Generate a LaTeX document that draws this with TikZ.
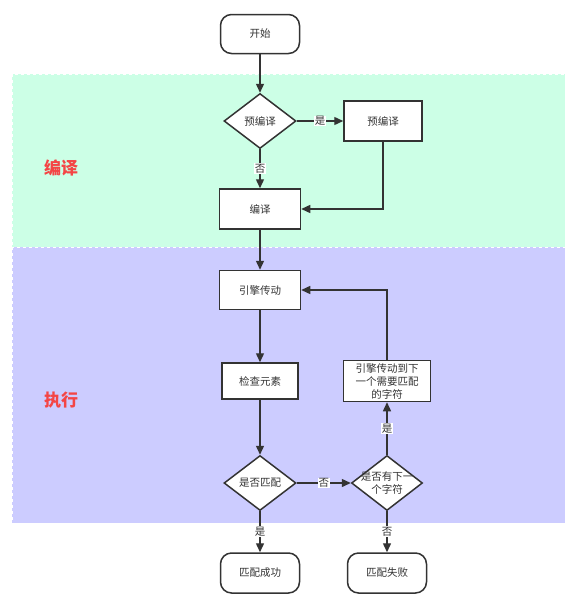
\documentclass[tikz,border=0pt]{standalone}
\usepackage{fontspec}
\setmainfont{Noto Sans CJK SC}
\usetikzlibrary{shapes.geometric,arrows.meta}
\definecolor{lanegreen}{HTML}{CCFFE6}
\definecolor{laneblue}{HTML}{CCCCFF}
\definecolor{inkgray}{HTML}{333333}
\definecolor{lanered}{HTML}{F44545}
\tikzset{
  box/.style={draw=inkgray, line width=1.5pt, fill=white, text=inkgray, font=\fontsize{10.5}{13}\selectfont, minimum width=#1, minimum height=40pt, inner sep=1pt, align=center},
  term/.style={box=79pt, rounded corners=11pt, minimum height=39pt},
  dia/.style={shape=diamond, draw=inkgray, line width=1.5pt, fill=white, minimum width=72pt, minimum height=55pt, inner sep=0pt},
  dtext/.style={text=inkgray, font=\fontsize{10.5}{13.5}\selectfont, align=center, inner sep=0pt},
  conn/.style={draw=inkgray, line width=1.4pt, -{Triangle[length=9pt,width=8pt]}},
  elab/.style={fill=white, text=inkgray, font=\fontsize{10.5}{12}\selectfont, inner sep=0.8pt},
  lane/.style={draw=white, dashed, line width=0.8pt},
  lanelabel/.style={text=lanered, font=\fontsize{17}{20}\selectfont\bfseries}
}
\begin{document}
\begin{tikzpicture}[x=1pt, y=-1pt]
\useasboundingbox (0,0) rectangle (581,600);
\fill[white] (0,0) rectangle (581,600);
% swimlanes
\path[lane, fill=lanegreen] (12,74) rectangle (565,247);
\path[lane, fill=laneblue] (12,247) rectangle (565,523);
\node[lanelabel] (lcomp) at (61,168) {编译};
\node[lanelabel] (lexec) at (61,400) {执行};
% nodes
\node[term] (start) at (260,34) {开始};
\node[dia] (d1) at (260,121) {};
\node[dtext] (d1t) at (d1.center) {预编译};
\node[box=78pt] (pre) at (383,121) {预编译};
\node[box=81pt] (comp) at (260,209) {编译};
\node[box=81pt, minimum height=39pt] (engine) at (260,290) {引擎传动};
\node[box=76pt, minimum height=36pt] (check) at (260,381) {检查元素};
\node[box=87pt, minimum height=41pt] (move) at (387,381) {引擎传动到下\\一个需要匹配\\的字符};
\node[dia] (d2) at (260,483) {};
\node[dtext] (d2t) at (d2.center) {是否匹配};
\node[dia, minimum width=71pt] (d3) at (387,483) {};
\node[dtext] (d3t) at (d3.center) {是否有下一\\个字符};
\node[term, minimum height=40pt] (succ) at (260,573) {匹配成功};
\node[term, minimum height=40pt] (fail) at (387,573) {匹配失败};
% connectors
\draw[conn] (start) -- (d1);
\draw[conn] (d1) -- node[elab] (lyes1) {是} (pre);
\draw[conn] (d1) -- node[elab] (lno1) {否} (comp);
\draw[conn] (pre.south) |- (comp.east);
\draw[conn] (comp) -- (engine);
\draw[conn] (engine) -- (check);
\draw[conn] (check) -- (d2);
\draw[conn] (d2) -- node[elab] (lno2) {否} (d3);
\draw[conn] (d3) -- node[elab] (lyes2) {是} (move);
\draw[conn] (move.north) |- (engine.east);
\draw[conn] (d2) -- node[elab] (lyes3) {是} (succ);
\draw[conn] (d3) -- node[elab] (lno3) {否} (fail);
\end{tikzpicture}
\end{document}
